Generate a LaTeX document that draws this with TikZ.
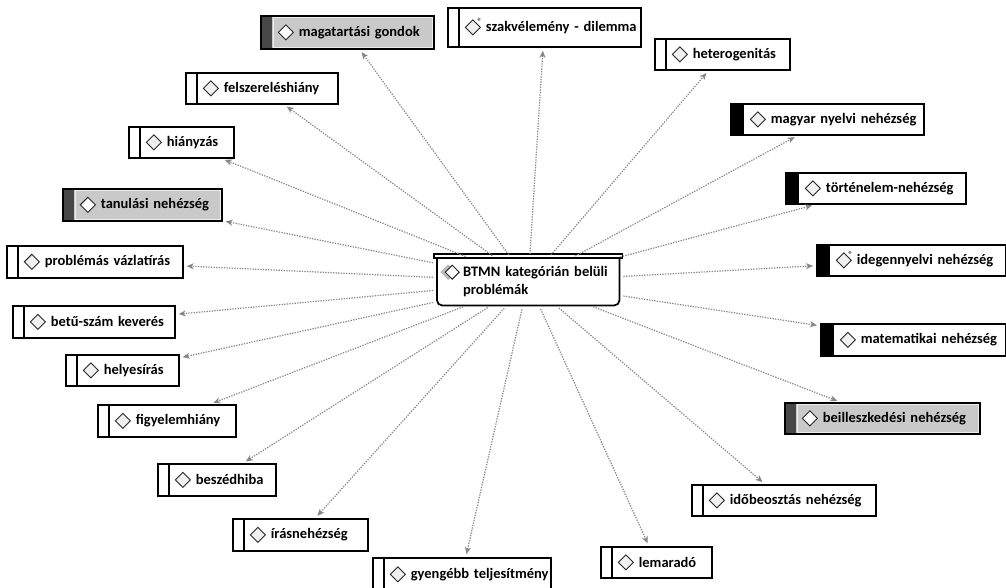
\documentclass[tikz,border=0pt]{standalone}
\usepackage{fontspec}
\setmainfont{Carlito}
\usetikzlibrary{arrows.meta}
\newcommand\bxdia[1]{\draw[diam] ([xshift=#1]path picture bounding box.west) -- ++(7.5pt,7.5pt) -- ++(7.5pt,-7.5pt) -- ++(-7.5pt,-7.5pt) -- cycle;}
\newcommand\bxdot[1]{\fill[gray!85] ([xshift=#1,yshift=8pt]path picture bounding box.west) ++(13.5pt,0pt) circle (1.9pt);}
\newcommand\bx[7]{%
  \pgfmathsetmacro\bxw{#4-#2}%
  \node[box,#6,text width=\bxw pt,minimum height={(#5-#3)*1pt}] (#1) at (#2,#3) {\mbox{#7}};}
\begin{document}
\begin{tikzpicture}[x=1pt,y=-1pt,
  box/.style={draw=black, line width=1.7pt, fill=white, anchor=north west,
    inner xsep=0pt, inner ysep=0pt, align=left,
    font=\bfseries\fontsize{14.5}{16}\selectfont},
  diam/.style={draw=black!85, line width=1pt, fill=gray!12},
  wstrip/.style={execute at begin node={\hspace*{38pt}}, path picture={
    \draw[line width=1.5pt] ([xshift=11pt]path picture bounding box.north west) -- ([xshift=11pt]path picture bounding box.south west);
    \bxdia{17.5pt}}},
  wdot/.style={execute at begin node={\hspace*{38pt}}, path picture={
    \draw[line width=1.5pt] ([xshift=11pt]path picture bounding box.north west) -- ([xshift=11pt]path picture bounding box.south west);
    \bxdia{17.5pt}\bxdot{17.5pt}}},
  bstrip/.style={execute at begin node={\hspace*{40pt}}, path picture={
    \fill[black] (path picture bounding box.north west) rectangle ([xshift=13pt]path picture bounding box.south west);
    \bxdia{19.5pt}}},
  bdot/.style={execute at begin node={\hspace*{40pt}}, path picture={
    \fill[black] (path picture bounding box.north west) rectangle ([xshift=13pt]path picture bounding box.south west);
    \bxdia{19.5pt}\bxdot{19.5pt}}},
  gstrip/.style={fill=gray!42, execute at begin node={\hspace*{38pt}}, path picture={
    \fill[black!72] (path picture bounding box.north west) rectangle ([xshift=11pt]path picture bounding box.south west);
    \draw[white!85!gray, line width=0.8pt] ([xshift=12.5pt,yshift=-1.8pt]path picture bounding box.north west) rectangle ([xshift=-1.8pt,yshift=1.8pt]path picture bounding box.south east);
    \draw[diam, fill=white] ([xshift=17.5pt]path picture bounding box.west) -- ++(7.5pt,7.5pt) -- ++(7.5pt,-7.5pt) -- ++(-7.5pt,-7.5pt) -- cycle;}},
  ctr/.style={draw=none, fill=white, anchor=north west, inner xsep=0pt, inner ysep=0pt,
    align=left, text width=182pt, minimum height=47pt,
    font=\bfseries\fontsize{14.5}{18}\selectfont,
    path picture={
      \draw[diam, fill=gray!45, draw=gray!60] ([shift={(4pt,-14pt)}]path picture bounding box.north west) -- ++(7pt,7pt) -- ++(7pt,-7pt) -- ++(-7pt,-7pt) -- cycle;
      \draw[diam, fill=white] ([shift={(8pt,-14pt)}]path picture bounding box.north west) -- ++(7pt,7pt) -- ++(7pt,-7pt) -- ++(-7pt,-7pt) -- cycle;}},
  conn/.style={draw=gray!65!black!70, line width=1.2pt, dash pattern=on 1.3pt off 1.3pt,
    -{Stealth[length=7pt,width=6pt,inset=2pt]}, shorten >=3pt, shorten <=4pt}
]
\useasboundingbox[fill=white] (0,0) rectangle (1006,587);

\bx{mag}{260}{15}{433}{48}{gstrip}{magatartási gondok}
\bx{szak}{447}{7}{640}{46}{wdot}{szakvélemény - dilemma}
\bx{het}{654}{38}{789}{69}{wstrip}{heterogenitás}
\bx{fel}{185}{72}{337}{103}{wstrip}{felszereléshiány}
\bx{hia}{128}{126}{233}{157}{wstrip}{hiányzás}
\bx{magy}{730}{103}{923}{134}{bstrip}{magyar nyelvi nehézség}
\bx{tort}{785}{172}{965}{203}{bstrip}{történelem-nehézség}
\bx{tan}{62}{188}{221}{220}{gstrip}{tanulási nehézség}
\bx{prob}{6}{245}{182}{277}{wstrip}{problémás vázlatírás}
\bx{ideg}{816}{244}{1005}{275}{bdot}{idegennyelvi nehézség}
\bx{betu}{12}{305}{174}{337}{wstrip}{betű-szám keverés}
\bx{mat}{820}{323}{1005}{355}{bstrip}{matematikai nehézség}
\bx{hely}{65}{354}{178}{385}{wstrip}{helyesírás}
\bx{figy}{97}{404}{235}{436}{wstrip}{figyelemhiány}
\bx{beil}{784}{402}{979}{433}{gstrip}{beilleszkedési nehézség}
\bx{besz}{157}{463}{275}{495}{wstrip}{beszédhiba}
\bx{ido}{691}{484}{875}{515}{wstrip}{időbeosztás nehézség}
\bx{iras}{232}{518}{367}{550}{wstrip}{írásnehézség}
\bx{gyen}{372}{557}{550}{590}{wstrip}{gyengébb teljesítmény}
\bx{lem}{600}{546}{711}{577}{wstrip}{lemaradó}

\node[ctr] (c) at (437,258) {\hspace*{26pt}BTMN kategórián belüli\\\hspace*{26pt}problémák};
\draw[line width=1.7pt, rounded corners=5pt] (c.north west) -- (c.south west) -- (c.south east) -- (c.north east);
\draw[line width=1.4pt, fill=white] ([xshift=-3pt]c.north west) rectangle ([xshift=3pt,yshift=4pt]c.north east);

\foreach \n in {mag,szak,het,fel,hia,magy,tort,tan,prob,ideg,betu,mat,hely,figy,beil,besz,ido,iras,gyen,lem}
  \draw[conn] (c) -- (\n);
\end{tikzpicture}
\end{document}
